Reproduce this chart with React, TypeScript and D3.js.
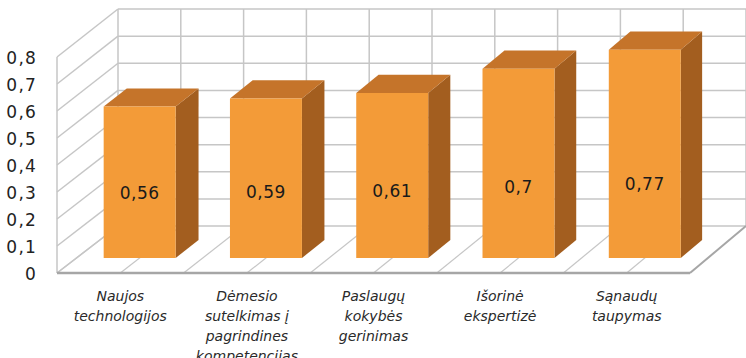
import React from "react";
import * as d3 from "d3";

const categories: string[][] = [
  ["Naujos", "technologijos"],
  ["Dėmesio", "sutelkimas į", "pagrindines", "kompetencijas"],
  ["Paslaugų", "kokybės", "gerinimas"],
  ["Išorinė", "ekspertizė"],
  ["Sąnaudų", "taupymas"],
];
const values: number[] = [0.56, 0.59, 0.61, 0.7, 0.77];
const valueLabels: string[] = ["0,56", "0,59", "0,61", "0,7", "0,77"];
const ticks: number[] = [0, 0.1, 0.2, 0.3, 0.4, 0.5, 0.6, 0.7, 0.8];
const tickLabels: string[] = ["0", "0,1", "0,2", "0,3", "0,4", "0,5", "0,6", "0,7", "0,8"];

const W = 746;
const H = 358;

// front plane and back plane geometry
const frontX = d3.scaleLinear().domain([0, 1]).range([57, 690]);
const backX = d3.scaleLinear().domain([0, 1]).range([118, 746]);
const frontY = d3.scaleLinear().domain([0, 0.8]).range([273, 57]);
const backY = d3.scaleLinear().domain([0, 0.8]).range([226, 9]);

const band = d3
  .scaleBand<number>()
  .domain(d3.range(categories.length))
  .range([0, 1])
  .paddingInner(0.43)
  .paddingOuter(0.215);

const proj = (u: number, v: number, d: number): [number, number] => [
  frontX(u) + (backX(u) - frontX(u)) * d,
  frontY(v) + (backY(v) - frontY(v)) * d,
];

const D_FRONT = 0.32;
const D_BACK = 0.7;

const pts = (arr: [number, number][]) => arr.map((p) => p.join(",")).join(" ");

export default function App() {
  const grid = "#c6c6c6";
  const vLines = d3.range(0, 11).map((k) => k / 10);
  return (
    <svg
      width={W}
      height={H}
      style={{ position: "fixed", left: 0, top: 0, background: "#fff" }}
    >
      {/* left wall */}
      <line x1={frontX(0)} y1={frontY(0)} x2={frontX(0)} y2={frontY(0.8)} stroke={grid} strokeWidth={1.5} />
      {ticks.map((t, i) => (
        <line
          key={"lw" + i}
          x1={frontX(0)}
          y1={frontY(t)}
          x2={backX(0)}
          y2={backY(t)}
          stroke={grid}
          strokeWidth={1.5}
        />
      ))}
      {/* back wall horizontal */}
      {ticks.map((t, i) => (
        <line
          key={"bw" + i}
          x1={backX(0)}
          y1={backY(t)}
          x2={backX(1)}
          y2={backY(t)}
          stroke={grid}
          strokeWidth={1.5}
        />
      ))}
      {/* back wall vertical */}
      {vLines.map((u, i) => (
        <line
          key={"bv" + i}
          x1={backX(u)}
          y1={backY(0)}
          x2={backX(u)}
          y2={backY(0.8)}
          stroke={grid}
          strokeWidth={1.5}
        />
      ))}
      {/* floor diagonals */}
      {vLines.map((u, i) => (
        <line
          key={"fd" + i}
          x1={frontX(u)}
          y1={frontY(0)}
          x2={backX(u)}
          y2={backY(0)}
          stroke={i === 10 ? "#a6a6a6" : grid}
          strokeWidth={i === 10 ? 2 : 1.2}
        />
      ))}
      {/* floor front edge */}
      <line x1={frontX(0)} y1={frontY(0)} x2={frontX(1)} y2={frontY(0)} stroke="#a6a6a6" strokeWidth={2.5} />

      {/* bars */}
      {values.map((v, i) => {
        const u0 = band(i)!;
        const u1 = u0 + band.bandwidth();
        const fbl = proj(u0, 0, D_FRONT);
        const fbr = proj(u1, 0, D_FRONT);
        const ftl = proj(u0, v, D_FRONT);
        const ftr = proj(u1, v, D_FRONT);
        const btl = proj(u0, v, D_BACK);
        const btr = proj(u1, v, D_BACK);
        const bbr = proj(u1, 0, D_BACK);
        const labelV = 0.153 + 0.157 * v;
        const lc = proj((u0 + u1) / 2, labelV, D_FRONT);
        return (
          <g key={"bar" + i}>
            <polygon points={pts([fbr, ftr, btr, bbr])} fill="#a35e1f" />
            <polygon points={pts([ftl, ftr, btr, btl])} fill="#c5742a" />
            <polygon points={pts([fbl, fbr, ftr, ftl])} fill="#f39b38" />
            <text
              x={lc[0]}
              y={lc[1]}
              textAnchor="middle"
              dominantBaseline="central"
              fontFamily="DejaVu Sans"
              fontSize={17}
              letterSpacing={0.5}
              fill="#1a1a1a"
            >
              {valueLabels[i]}
            </text>
          </g>
        );
      })}

      {/* y tick labels */}
      {ticks.map((t, i) => (
        <text
          key={"tl" + i}
          x={37}
          y={frontY(t) + 1}
          textAnchor="end"
          dominantBaseline="central"
          fontFamily="DejaVu Sans"
          fontSize={17}
          letterSpacing={1.2}
          fill="#222"
        >
          {tickLabels[i]}
        </text>
      ))}

      {/* category labels */}
      {categories.map((lines, i) => {
        const cx = frontX(band(i)! + band.bandwidth() / 2);
        return (
          <text
            key={"cl" + i}
            textAnchor="middle"
            fontFamily="DejaVu Sans"
            fontStyle="italic"
            fontSize={14}
            fill="#2a2a2a"
          >
            {lines.map((l, j) => (
              <tspan key={j} x={cx} y={301 + j * 20}>
                {l}
              </tspan>
            ))}
          </text>
        );
      })}
    </svg>
  );
}
